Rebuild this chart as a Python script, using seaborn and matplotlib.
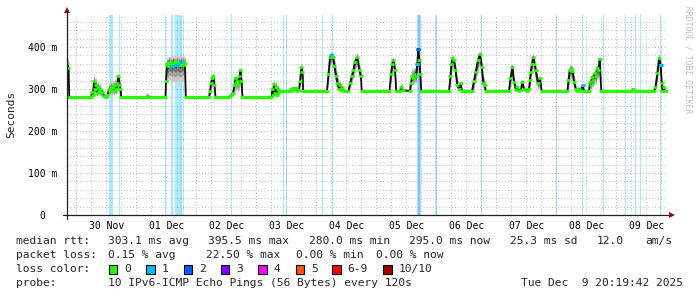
import numpy as np
import pandas as pd
import matplotlib
matplotlib.use("Agg")
import matplotlib.pyplot as plt
import seaborn as sns
from matplotlib.collections import LineCollection
from matplotlib.patches import Rectangle

sns.set_style("white")
plt.rcParams["font.family"] = ["DejaVu Sans Mono"]

# ---------------- data (hours since 30 Nov 00:00, RTT in ms) ----------------
t_start, t_end = -3.67, 236.33
day_labels = ["30 Nov", "01 Dec", "02 Dec", "03 Dec", "04 Dec",
              "05 Dec", "06 Dec", "07 Dec", "08 Dec", "09 Dec"]

hours = [-3.67, -3.08, -2.76, 5.92, 6.32, 6.72, 7.12, 7.52, 7.92, 8.32, 8.72, 9.12, 9.52, 9.92,
         10.52, 11.12, 11.92, 12.52, 13.12, 13.52, 13.92, 14.32, 14.72, 15.12, 15.52, 15.92,
         16.52, 16.92, 17.32, 17.72, 18.04, 27.12, 28.32, 29.52, 35.72, 35.92, 36.32, 36.72,
         37.12, 37.52, 37.92, 38.32, 38.72, 39.12, 39.52, 39.92, 40.32, 40.72, 41.12, 41.52,
         41.92, 42.32, 42.72, 43.12, 43.52, 43.84, 53.12, 53.52, 53.92, 54.44, 54.84, 55.32,
         55.72, 61.12, 61.92, 62.72, 63.32, 63.72, 64.12, 64.52, 64.92, 65.32, 65.72, 66.12,
         66.52, 78.12, 78.52, 78.84, 79.12, 79.52, 79.92, 80.32, 80.72, 81.12, 81.72, 85.52,
         85.92, 86.32, 86.72, 87.12, 87.92, 88.32, 89.12, 89.52, 90.12, 90.52, 90.84, 100.32,
         100.92, 101.52, 102.12, 102.72, 103.32, 103.92, 104.52, 105.12, 105.52, 105.92, 106.52,
         107.12, 108.92, 109.52, 110.2, 110.92, 111.52, 112.44, 113.24, 113.92, 114.2, 125.32,
         125.92, 126.44, 126.84, 127.52, 128.04, 129.52, 130.12, 130.72, 133.52, 133.92, 134.32,
         134.72, 135.32, 135.92, 136.44, 136.84, 137.24, 137.64, 138.04, 149.12, 149.72, 150.12,
         150.52, 151.12, 151.72, 152.44, 153.12, 153.8, 154.32, 158.32, 159.12, 159.8, 160.72,
         161.52, 162.2, 162.84, 163.52, 163.8, 173.12, 173.72, 174.44, 175.12, 175.92, 176.44,
         177.12, 177.92, 178.44, 179.12, 180.44, 181.12, 181.52, 181.8, 182.32, 182.84, 183.32,
         183.8, 184.72, 185.52, 186.2, 196.52, 196.92, 197.4, 197.92, 198.52, 199.12, 199.8,
         200.32, 201.12, 201.52, 202.72, 203.12, 205.12, 205.52, 205.92, 206.44, 206.92, 207.4,
         207.92, 208.44, 208.92, 209.4, 210.04, 222.32, 222.84, 223.32, 231.12, 231.72, 232.44,
         233.12, 233.8, 234.2, 234.52, 235.12, 235.52, 236.12]

median_ms = [362, 350, 280, 280, 292, 285, 318, 300, 310, 290, 305, 295, 300, 290,
             293, 283, 280, 285, 300, 295, 305, 298, 305, 296, 310, 300,
             315, 330, 310, 300, 280, 280, 280, 280, 280, 318, 360, 355,
             365, 358, 362, 355, 365, 360, 362, 358, 366, 360, 362, 357,
             365, 360, 364, 358, 362, 280, 280, 295, 315, 325, 330, 310,
             280, 280, 285, 290, 310, 325, 315, 320, 312, 330, 345, 320,
             280, 280, 300, 285, 312, 290, 305, 285, 300, 292, 295, 295,
             300, 296, 302, 298, 303, 296, 297, 320, 352, 340, 295, 295,
             335, 375, 380, 375, 355, 330, 315, 300, 310, 298, 303,
             295, 295, 313, 330, 345, 365, 375, 345, 330, 295, 295,
             335, 360, 369, 345, 295, 295, 305, 297, 295, 315, 330,
             325, 335, 330, 360, 395, 370, 335, 295, 295, 330, 360,
             373, 368, 345, 310, 300, 313, 295, 295, 320, 341, 369,
             383, 353, 313, 310, 295, 295, 325, 353, 317, 298, 305,
             296, 298, 317, 300, 295, 300, 321, 341, 360, 377, 360,
             345, 313, 325, 295, 295, 321, 345, 348, 343, 317, 301,
             295, 301, 295, 309, 295, 295, 317, 310, 329, 322, 337,
             330, 349, 345, 371, 295, 295, 300, 295, 295, 305, 337,
             373, 357, 313, 295, 305, 295, 295]

smoke_hi = [380, 370, 280, 282, 302, 308, 340, 325, 330, 310, 322, 310, 315, 302,
            305, 290, 282, 292, 318, 315, 322, 316, 322, 315, 328, 320,
            335, 340, 330, 318, 280, 282, 292, 285, 282, 328, 378, 376,
            379, 377, 379, 377, 380, 378, 379, 377, 380, 378, 379, 377,
            380, 378, 379, 377, 378, 280, 280, 305, 328, 336, 338, 328,
            280, 280, 295, 298, 325, 335, 328, 332, 325, 340, 352, 338,
            280, 280, 318, 310, 325, 315, 320, 305, 312, 305, 295, 295,
            308, 298, 308, 300, 308, 296, 297, 335, 362, 355, 295, 295,
            350, 386, 390, 387, 375, 355, 335, 320, 322, 308, 310,
            295, 295, 325, 345, 360, 376, 387, 365, 345, 295, 295,
            350, 372, 378, 365, 295, 295, 320, 298, 295, 330, 350,
            348, 352, 348, 380, 406, 390, 355, 295, 295, 345, 375,
            382, 380, 365, 330, 308, 322, 295, 295, 335, 355, 378,
            390, 375, 335, 322, 295, 295, 340, 362, 335, 308, 312,
            296, 298, 325, 308, 295, 308, 335, 355, 372, 384, 375,
            360, 330, 332, 295, 295, 335, 358, 358, 357, 340, 312,
            295, 307, 295, 312, 295, 295, 330, 325, 340, 335, 350,
            345, 358, 358, 376, 295, 295, 303, 295, 295, 312, 350,
            386, 374, 335, 295, 310, 295, 295]

smoke_lo = [345, 335, 280, 280, 284, 280, 292, 284, 288, 281, 288, 284, 286, 281,
            283, 280, 278, 280, 286, 284, 288, 284, 290, 284, 292, 286,
            292, 302, 288, 284, 280, 280, 280, 280, 280, 300, 318, 316,
            320, 322, 318, 316, 320, 318, 314, 318, 316, 320, 316, 318,
            314, 318, 320, 316, 318, 280, 280, 284, 292, 306, 312, 292,
            280, 280, 280, 282, 290, 298, 292, 296, 292, 302, 312, 298,
            280, 280, 284, 280, 288, 281, 286, 280, 286, 284, 295, 295,
            295, 295, 295, 296, 296, 295, 296, 302, 330, 315, 295, 295,
            315, 350, 360, 355, 330, 305, 298, 295, 298, 295, 296,
            295, 295, 298, 312, 325, 340, 355, 325, 310, 295, 295,
            310, 335, 345, 320, 295, 295, 296, 296, 295, 298, 312,
            310, 315, 310, 335, 365, 340, 305, 295, 295, 305, 335,
            350, 345, 320, 296, 295, 298, 295, 295, 298, 318, 340,
            360, 330, 298, 296, 295, 295, 302, 325, 298, 295, 296,
            295, 296, 298, 295, 295, 295, 302, 315, 335, 350, 335,
            315, 298, 302, 295, 295, 298, 320, 325, 320, 298, 295,
            295, 295, 295, 295, 295, 295, 298, 296, 308, 302, 314,
            308, 325, 320, 340, 295, 295, 295, 295, 295, 296, 315,
            345, 330, 298, 295, 296, 295, 295]

# median samples that carried packet loss (level = number of lost pings)
lossdot_hours = [38.32, 39.92, 40.72, 41.92, 102.12, 136.44, 136.84, 202.72, 233.8]
lossdot_ms = [355, 358, 360, 365, 380, 360, 395, 309, 357]
lossdot_level = [1, 1, 1, 1, 1, 1, 2, 1, 1]

# loss intervals (start hour, end hour, lost pings)
loss_start = [13.12, 17.12, 35.52, 37.92, 39.52, 42.92, 62.0, 82.84, 83.92, 98.2, 102.2,
              136.2, 136.72, 143.72, 161.8, 191.8, 202.2, 210.72, 219.52, 223.4, 225.52, 233.4]
loss_end = [14.72, 17.52, 35.92, 38.64, 42.2, 43.32, 62.4, 83.32, 84.32, 98.68, 102.68,
            138.04, 137.52, 144.2, 162.2, 192.2, 202.84, 211.12, 219.92, 223.8, 225.92, 233.92]
loss_level = [1, 1, 1, 1, 1, 1, 1, 1, 1, 1, 1, 1, 2, 1, 1, 1, 1, 1, 1, 1, 1, 1]

loss_names = ["0", "1", "2", "3", "4", "5", "6-9", "10/10"]
loss_colors = ["#26ff00", "#00b8ff", "#0059ff", "#7e00ff", "#ff00ff", "#ff5500", "#ff0000", "#a10000"]

stat_rtt = ["303.1 ms avg", "395.5 ms max", "280.0 ms min", "295.0 ms now", "25.3 ms sd", "12.0", "am/s"]
stat_loss = ["0.15 % avg", "22.50 % max", "0.00 % min", "0.00 % now"]
probe_text = "10 IPv6-ICMP Echo Pings (56 Bytes) every 120s"
stamp_text = "Tue Dec  9 20:19:42 2025"

# ---------------- figure ----------------
W, H = 697, 297
fig = plt.figure(figsize=(W / 100, H / 100), dpi=100)
fig.patch.set_facecolor("white")
ax = fig.add_axes([67 / W, (H - 215) / H, 600 / W, 200 / H])
ax.set_xlim(t_start, t_end)
ax.set_ylim(0, 476)
for s in ax.spines.values():
    s.set_visible(False)

# grid
dot = (0, (1, 2))
for h in np.arange(-18, 240, 6):
    if t_start < h < t_end:
        if h % 24 == 0:
            ax.axvline(h, color="#e8a8a8", lw=0.75, ls=dot, zorder=0.6)
        else:
            ax.axvline(h, color="#c4c4c4", lw=0.75, ls=dot, zorder=0.5)
for v in np.arange(20, 476, 20):
    if v % 100 == 0:
        ax.axhline(v, color="#e8a8a8", lw=0.75, ls=dot, zorder=0.6)
    else:
        ax.axhline(v, color="#c4c4c4", lw=0.75, ls=dot, zorder=0.5)

# loss bars
for a, b, lv in zip(loss_start, loss_end, loss_level):
    ax.axvspan(a, b, color=loss_colors[lv], alpha=0.33 if lv == 1 else 0.25, lw=0, zorder=1)

# smoke
hh = np.array(hours, dtype=float)
mm = np.array(median_ms, dtype=float)
hi = np.array(smoke_hi, dtype=float)
lo = np.array(smoke_lo, dtype=float)
for frac, col in [(1.0, "#cacaca"), (0.7, "#a2a2a2"), (0.45, "#747474"), (0.2, "#444444")]:
    ax.fill_between(hh, mm - (mm - lo) * frac, mm + (hi - mm) * frac, color=col, lw=0, zorder=2)

# median line
df = pd.DataFrame({"hour": hh, "rtt": mm})
sns.lineplot(data=df, x="hour", y="rtt", color="#111111", lw=1.3, ax=ax, zorder=3,
             estimator=None, sort=False)
segs = [[(hh[i], mm[i]), (hh[i + 1], mm[i + 1])] for i in range(len(hh) - 1) if mm[i] == mm[i + 1]]
ax.add_collection(LineCollection(segs, colors=loss_colors[0], linewidths=2.3, zorder=4, capstyle="butt"))
ax.plot(hh, mm, ls="none", marker="_", ms=2.4, mew=1.9, color=loss_colors[0], zorder=4)
ax.plot(lossdot_hours, lossdot_ms, ls="none", marker="_", ms=2.6, mew=2.0, zorder=5,
        color=loss_colors[1])
for x, y, lv in zip(lossdot_hours, lossdot_ms, lossdot_level):
    if lv != 1:
        ax.plot([x], [y], ls="none", marker="_", ms=2.6, mew=2.0, color=loss_colors[lv], zorder=6)
ax.set_xlabel("")
ax.set_ylabel("")

# ticks
ax.set_xticks([12 + 24 * i for i in range(len(day_labels))])
ax.set_xticklabels(day_labels, fontsize=7)
ax.set_xticks([24 * i for i in range(10)], minor=True)
ax.tick_params(axis="x", which="major", length=0, pad=4.5)
ax.tick_params(axis="x", which="minor", length=3, direction="inout", color="#d08080", width=0.8)
ax.set_yticks([0, 100, 200, 300, 400])
ax.set_yticklabels(["0  ", "100 m", "200 m", "300 m", "400 m"], fontsize=7)
ax.tick_params(axis="y", which="major", length=3, direction="inout", color="#d08080", width=0.8,
               pad=5.2)
ax.tick_params(axis="both", labelcolor="black")

# axes with arrows
arrow_col = "#8b1010"
ax.plot([-4 / 600, 603 / 600], [0, 0], transform=ax.transAxes, color="#202020", lw=0.9,
        clip_on=False, zorder=7)
ax.plot([0, 0], [-4 / 200, 203 / 200], transform=ax.transAxes, color="#202020", lw=0.9,
        clip_on=False, zorder=7)
ax.plot([605 / 600], [0], transform=ax.transAxes, marker=">", ms=4, color=arrow_col,
        clip_on=False, zorder=8, mew=0)
ax.plot([0], [205 / 200], transform=ax.transAxes, marker="^", ms=4, color=arrow_col,
        clip_on=False, zorder=8, mew=0)

# texts
def px(x, y):
    return x / W, 1 - y / H

fig.text(*px(11, 114), "Seconds", rotation=90, ha="center", va="center", fontsize=8)
fig.text(*px(688, 60), "RRDTOOL / TOBI OETIKER", rotation=270, ha="center", va="center",
         fontsize=5.8, color="#c0c0c0")

fs = 8.1
y1, y2, y3, y4 = 241, 255, 269, 283
fig.text(*px(16, y1), "median rtt:", fontsize=fs, va="center")
for x, s in zip([107.7, 208.2, 308.8, 409.3, 509.8, 596.5, 645.7], stat_rtt):
    fig.text(*px(x, y1), s, fontsize=fs, va="center")
fig.text(*px(16, y2), "packet loss:", fontsize=fs, va="center")
for x, s in zip([107.7, 206.0, 296.0, 376.0], stat_loss):
    fig.text(*px(x, y2), s, fontsize=fs, va="center")
fig.text(*px(16, y3), "loss color:", fontsize=fs, va="center")
for x, name, col in zip([108.6, 146.1, 183.6, 220.7, 258.3, 295.8, 332.4, 383.4], loss_names, loss_colors):
    fig.patches.append(Rectangle((x / W, 1 - (y3 + 4.5) / H), 8.5 / W, 9 / H, transform=fig.transFigure,
                                 facecolor=col, edgecolor="black", lw=0.8))
    fig.text(*px(x + 15.2, y3), name, fontsize=fs, va="center")
fig.text(*px(16, y4), "probe:", fontsize=fs, va="center")
fig.text(*px(107.7, y4), probe_text, fontsize=fs, va="center")
fig.text(*px(683, y4), stamp_text, fontsize=fs, va="center", ha="right")

fig.savefig("out.png", dpi=100, facecolor="white")
